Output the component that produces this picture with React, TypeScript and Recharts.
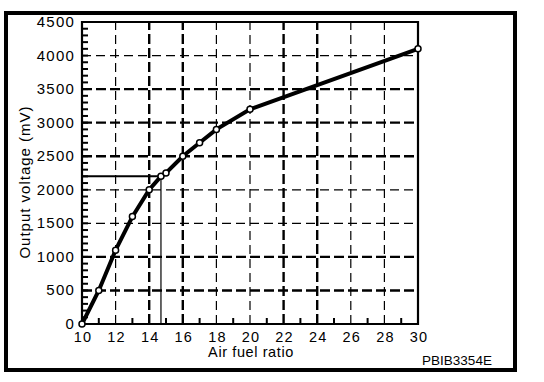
import React from 'react';
import { LineChart, Line, XAxis, YAxis, ReferenceLine, ReferenceArea } from 'recharts';

const airFuel = [10, 11, 12, 13, 14, 14.7, 15, 16, 17, 18, 20, 30];
const voltage = [0, 500, 1100, 1600, 2000, 2200, 2250, 2500, 2700, 2900, 3200, 4100];

const xTicks = [10, 11, 12, 13, 14, 15, 16, 17, 18, 19, 20, 21, 22, 23, 24, 25, 26, 27, 28, 29, 30];
const xLabels = [10, 12, 14, 16, 18, 20, 22, 24, 26, 28, 30];
const yTicks = Array.from({ length: 46 }, (_, i) => i * 100);
const yLabels = [0, 500, 1000, 1500, 2000, 2500, 3000, 3500, 4000, 4500];

const xGrid = [12, 14, 16, 18, 20, 22, 24, 26, 28];
const yGrid = [500, 1000, 1500, 2000, 2500, 3000, 3500, 4000];
const xGridHeavy = [14, 16, 22, 24];
const yGridHeavy = [500, 1000, 2500, 3000, 3500];

// stoichiometric marker
const markX = 14.7;
const markY = 2200;

const data = airFuel.map((afr, i) => ({ afr, mv: voltage[i] }));

const FONT = '"Liberation Sans", Arial, Helvetica, sans-serif';

const YTick = (props: any) => {
  const { x, y, payload } = props;
  const v = payload.value;
  const showLabel = yLabels.includes(v);
  const showTick = v !== 0 && v !== 4500;
  return (
    <g>
      {showTick && <line x1={x} y1={y} x2={x + 6} y2={y} stroke="#000" strokeWidth={2} />}
      {showLabel && (
        <text x={x - 7} y={y + 5} textAnchor="end" fontSize={15} letterSpacing={1.2} fontFamily={FONT} fill="#000">
          {v}
        </text>
      )}
    </g>
  );
};

const XTick = (props: any) => {
  const { x, y, payload } = props;
  const v = payload.value;
  const showLabel = xLabels.includes(v);
  const showTick = v % 2 === 1;
  return (
    <g>
      {showTick && <line x1={x} y1={y} x2={x} y2={y - 6} stroke="#000" strokeWidth={2} />}
      {showLabel && (
        <text x={x + 1} y={y + 18} textAnchor="middle" fontSize={14.5} letterSpacing={1.2} fontFamily={FONT} fill="#000">
          {v}
        </text>
      )}
    </g>
  );
};

export default function App() {
  return (
    <div style={{ position: 'absolute', left: 0, top: 0, width: 544, height: 382, background: '#fff' }}>
      <LineChart width={544} height={382} data={data} margin={{ top: 22, right: 126, bottom: 28, left: 22 }}>
        <XAxis
          dataKey="afr"
          type="number"
          domain={[10, 30]}
          ticks={xTicks}
          interval={0}
          tick={<XTick />}
          tickSize={0}
          tickMargin={0}
          axisLine={false}
          height={30}
        />
        <YAxis
          type="number"
          domain={[0, 4500]}
          ticks={yTicks}
          interval={0}
          tick={<YTick />}
          tickSize={0}
          tickMargin={0}
          axisLine={false}
          width={60}
        />
        {xGrid.map(v => (
          <ReferenceLine
            key={'x' + v}
            x={v}
            stroke="#000"
            strokeWidth={xGridHeavy.includes(v) ? 2.4 : 1.2}
            strokeDasharray={xGridHeavy.includes(v) ? '10 4' : '9 5'}
          />
        ))}
        {yGrid.map(v => (
          <ReferenceLine
            key={'y' + v}
            y={v}
            stroke="#000"
            strokeWidth={yGridHeavy.includes(v) ? 2.4 : 1.2}
            strokeDasharray={yGridHeavy.includes(v) ? '10 4' : '9 5'}
          />
        ))}
        <ReferenceLine segment={[{ x: 10, y: markY }, { x: markX, y: markY }]} stroke="#000" strokeWidth={2} />
        <ReferenceLine segment={[{ x: markX, y: 0 }, { x: markX, y: markY }]} stroke="#000" strokeWidth={1.2} />
        <ReferenceArea x1={10} x2={30} y1={0} y2={4500} fill="none" stroke="#000" strokeWidth={2.2} />
        <Line
          type="linear"
          dataKey="mv"
          stroke="#000"
          strokeWidth={4}
          dot={{ r: 3, fill: '#fff', stroke: '#000', strokeWidth: 1.5 }}
          isAnimationActive={false}
        />
      </LineChart>
      <svg width={544} height={382} style={{ position: 'absolute', left: 0, top: 0, pointerEvents: 'none' }}>
        <rect x={6} y={13} width={509} height={357} fill="none" stroke="#000" strokeWidth={4} />
        <text x={251} y={357} textAnchor="middle" fontSize={14.5} letterSpacing={0.6} fontFamily={FONT} fill="#000">
          Air fuel ratio
        </text>
        <text x={457} y={365} textAnchor="middle" fontSize={13.5} fontFamily={FONT} fill="#000">
          PBIB3354E
        </text>
        <text
          x={30}
          y={182}
          transform="rotate(-90 30 182)"
          textAnchor="middle"
          fontSize={15}
          letterSpacing={1}
          fontFamily={FONT}
          fill="#000"
        >
          Output voltage (mV)
        </text>
      </svg>
    </div>
  );
}
